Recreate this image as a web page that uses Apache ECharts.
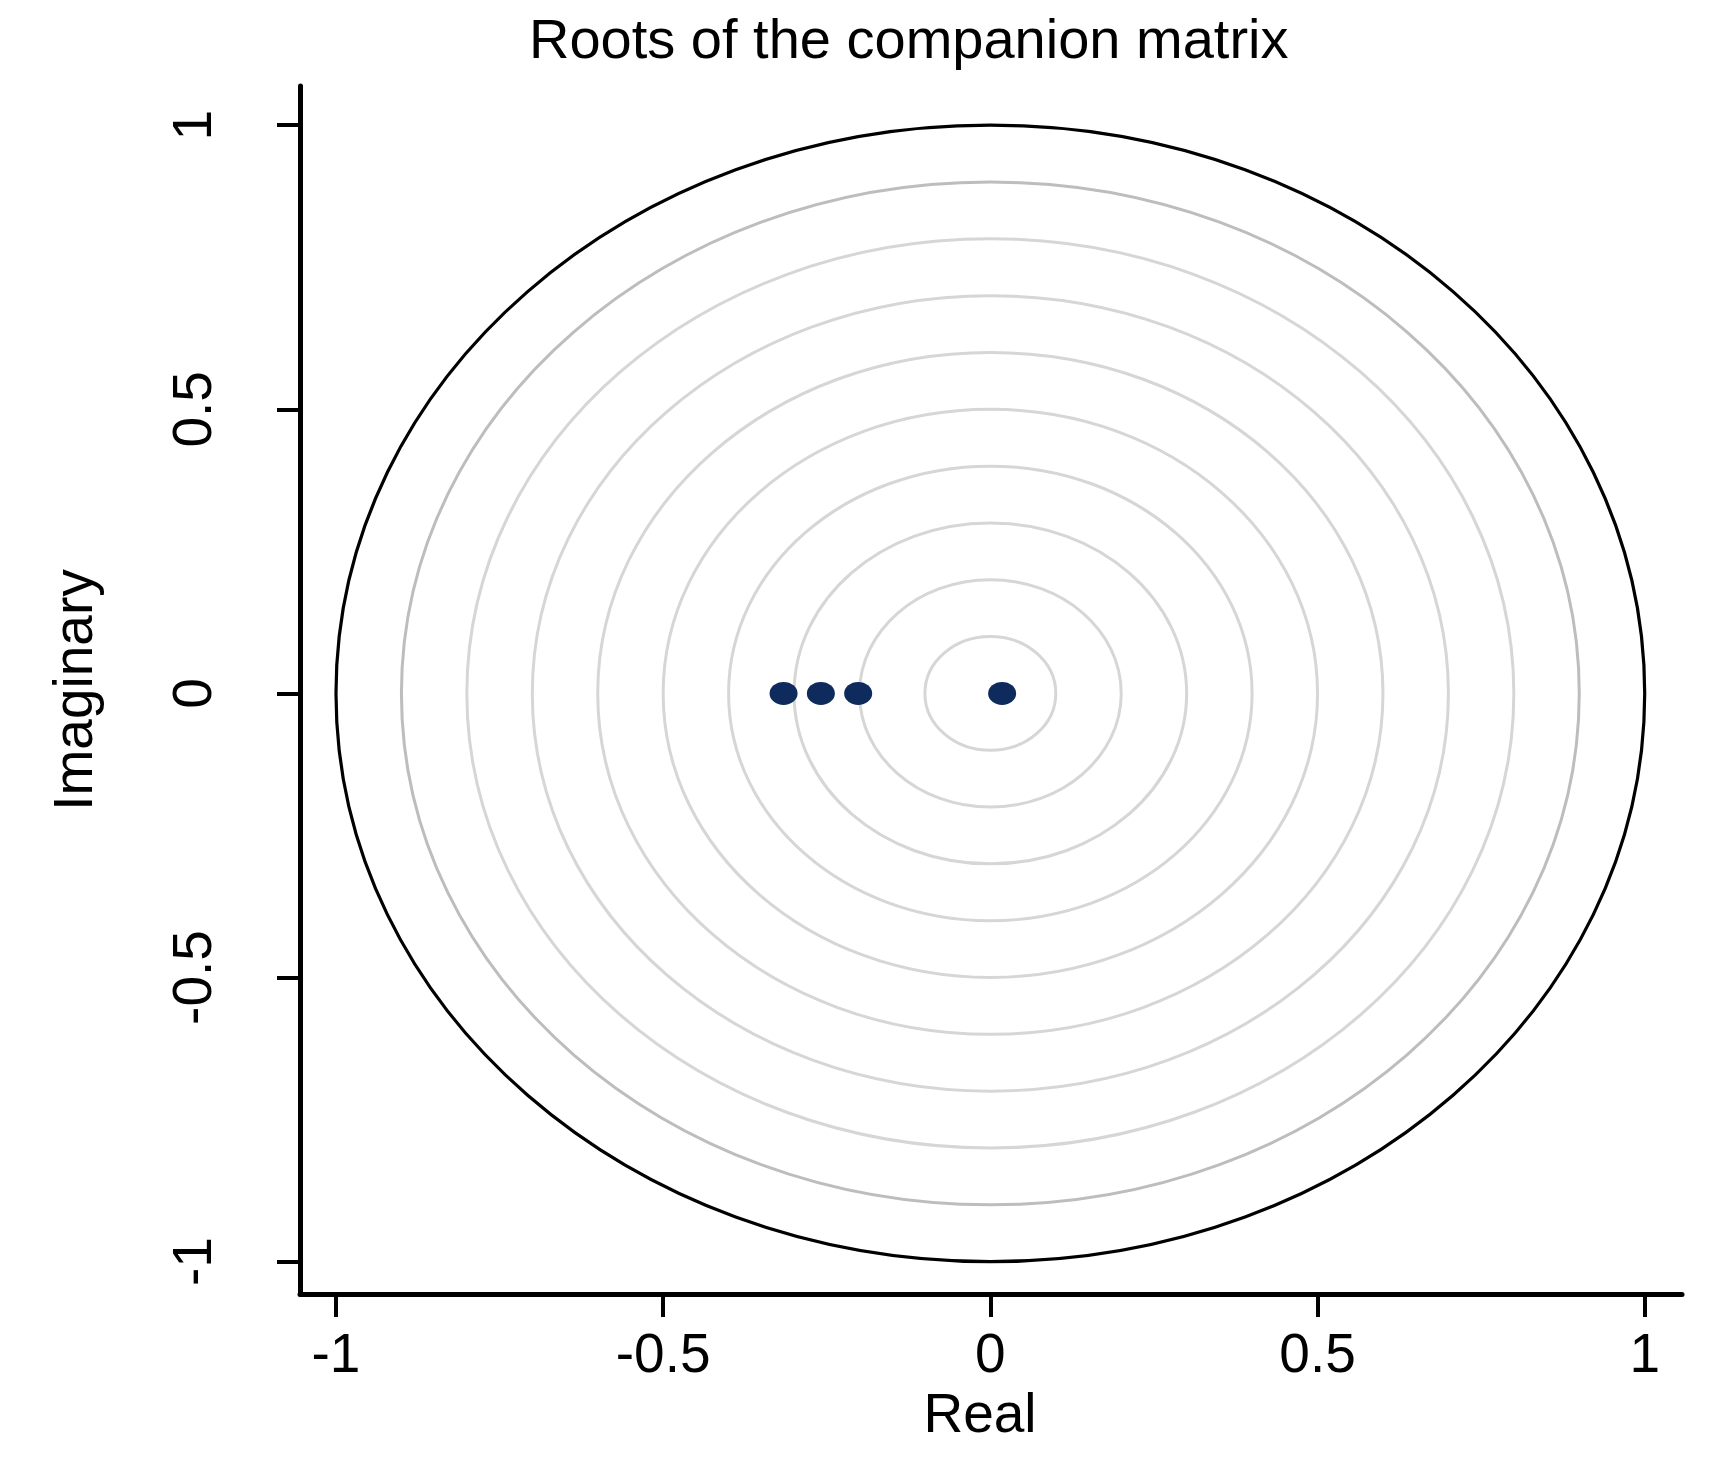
<!DOCTYPE html>
<html>
<head>
<meta charset="utf-8">
<script src="https://cdn.jsdelivr.net/npm/echarts@6/dist/echarts.min.js"></script>
<style>
  html, body { margin: 0; padding: 0; background: #fff; }
  #roots-chart { width: 1728px; height: 1460px; }
</style>
</head>
<body>
<div id="roots-chart"></div>
<script>
// roots of the companion matrix (all real here)
const rootReal = [-0.316, -0.259, -0.202, 0.018]
const rootImag = [0, 0, 0, 0]
// reference circles
const gridRadii = [0.1, 0.2, 0.3, 0.4, 0.5, 0.6, 0.7, 0.8, 0.9]
const unitRadius = [1]
const tickValues = [-1, -0.5, 0, 0.5, 1]

const FONT = 'Liberation Sans, Arial, sans-serif'

const circleSeries = (radii, color, width) => ({
  type: 'custom',
  coordinateSystem: 'cartesian2d',
  clip: false,
  silent: true,
  encode: { x: 0, y: 1 },
  data: radii.map(r => [0, 0, r]),
  renderItem: (params, api) => {
    const c = api.coord([api.value(0), api.value(1)])
    const s = api.size([api.value(2), api.value(2)])
    return {
      type: 'ellipse',
      shape: { cx: c[0], cy: c[1], rx: s[0], ry: s[1] },
      style: { fill: 'none', stroke: color, lineWidth: width }
    }
  }
})

const axisCommon = {
  type: 'value',
  splitLine: { show: false },
  axisLine: { show: true, onZero: false, lineStyle: { color: '#000', width: 5 } },
  axisTick: { show: true, length: 23, customValues: tickValues, lineStyle: { color: '#000', width: 4 } },
  nameLocation: 'middle'
}

const chart = echarts.init(document.getElementById('roots-chart'))
chart.setOption({
  backgroundColor: '#fff',
  animation: false,
  title: {
    text: 'Roots of the companion matrix',
    left: 524,
    top: 10,
    textStyle: { color: '#000', fontSize: 56, fontWeight: 'normal', fontFamily: FONT }
  },
  grid: { left: 300, right: 46, top: 86, bottom: 166 },
  xAxis: Object.assign({}, axisCommon, {
    min: -1.055,
    max: 1.057,
    name: 'Real',
    nameGap: 85,
    nameTextStyle: { color: '#000', fontSize: 55, fontFamily: FONT, padding: [0, 22, 0, 0] },
    axisLabel: {
      customValues: tickValues,
      margin: 35,
      color: '#000',
      fontSize: 55,
      fontFamily: FONT,
      formatter: v => String(v)
    }
  }),
  yAxis: Object.assign({}, axisCommon, {
    min: -1.057,
    max: 1.069,
    name: 'Imaginary',
    nameGap: 196,
    nameTextStyle: { color: '#000', fontSize: 55, fontFamily: FONT },
    axisLabel: {
      customValues: tickValues,
      rotate: 90,
      margin: 77,
      color: '#000',
      fontSize: 55,
      fontFamily: FONT,
      formatter: v => String(v)
    }
  }),
  series: [
    circleSeries(gridRadii.slice(0, 8), '#d6d6d6', 3),
    circleSeries(gridRadii.slice(8), '#bdbdbd', 3),
    circleSeries(unitRadius, '#000', 3.2),
    {
      type: 'scatter',
      symbol: 'circle',
      symbolSize: [28, 23],
      itemStyle: { color: '#0f2a5c', opacity: 1 },
      data: rootReal.map((x, i) => [x, rootImag[i]])
    }
  ]
})
</script>
</body>
</html>
